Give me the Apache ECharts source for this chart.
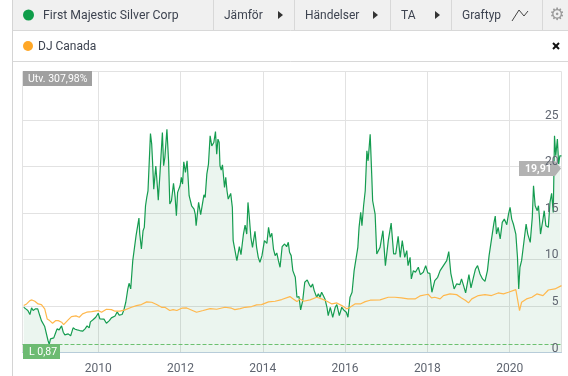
<!DOCTYPE html>
<html>
<head>
<meta charset="utf-8">
<style>
    html, body { margin: 0; padding: 0; background: #fff; }
    #chart { width: 568px; height: 376px; }
</style>
<script src="https://cdn.jsdelivr.net/npm/echarts@6/dist/echarts.min.js"></script>
</head>
<body>
<div id="chart"></div>
<script>
// values, x is decimal year
const stockYears = [2008.19,2008.24,2008.29,2008.34,2008.38,2008.42,2008.47,2008.53,2008.58,2008.62,2008.66,2008.70,2008.74,2008.78,2008.81,2008.84,2008.88,2008.92,2008.97,2009.00,2009.05,2009.11,2009.15,2009.19,2009.23,2009.27,2009.33,2009.39,2009.44,2009.49,2009.55,2009.62,2009.68,2009.73,2009.78,2009.81,2009.88,2009.94,2010.00,2010.04,2010.08,2010.14,2010.20,2010.27,2010.32,2010.41,2010.46,2010.51,2010.58,2010.62,2010.67,2010.72,2010.75,2010.79,2010.84,2010.87,2010.92,2010.95,2010.99,2011.01,2011.05,2011.09,2011.12,2011.15,2011.18,2011.21,2011.27,2011.30,2011.32,2011.35,2011.40,2011.44,2011.46,2011.50,2011.56,2011.59,2011.62,2011.67,2011.71,2011.74,2011.78,2011.83,2011.87,2011.90,2011.93,2011.99,2012.02,2012.05,2012.08,2012.12,2012.16,2012.21,2012.27,2012.33,2012.36,2012.38,2012.44,2012.49,2012.52,2012.57,2012.60,2012.64,2012.68,2012.72,2012.76,2012.81,2012.85,2012.88,2012.91,2012.94,2012.96,2012.99,2013.02,2013.07,2013.10,2013.13,2013.16,2013.22,2013.26,2013.28,2013.32,2013.37,2013.43,2013.47,2013.53,2013.57,2013.61,2013.64,2013.67,2013.71,2013.75,2013.81,2013.85,2013.89,2013.93,2013.98,2014.04,2014.10,2014.14,2014.18,2014.22,2014.26,2014.30,2014.34,2014.38,2014.42,2014.47,2014.53,2014.58,2014.62,2014.65,2014.69,2014.73,2014.79,2014.83,2014.88,2014.92,2014.97,2015.02,2015.08,2015.13,2015.17,2015.21,2015.25,2015.31,2015.35,2015.39,2015.43,2015.47,2015.51,2015.56,2015.59,2015.64,2015.70,2015.76,2015.80,2015.86,2015.92,2015.98,2016.03,2016.07,2016.12,2016.17,2016.22,2016.26,2016.31,2016.34,2016.38,2016.41,2016.45,2016.49,2016.53,2016.56,2016.61,2016.65,2016.67,2016.73,2016.77,2016.81,2016.85,2016.87,2016.92,2016.98,2017.05,2017.12,2017.18,2017.23,2017.29,2017.34,2017.39,2017.45,2017.50,2017.53,2017.58,2017.61,2017.66,2017.71,2017.78,2017.83,2017.90,2017.96,2018.01,2018.06,2018.11,2018.18,2018.25,2018.31,2018.39,2018.47,2018.52,2018.57,2018.61,2018.65,2018.71,2018.79,2018.83,2018.88,2018.93,2019.01,2019.06,2019.12,2019.17,2019.22,2019.28,2019.34,2019.40,2019.46,2019.50,2019.54,2019.58,2019.62,2019.65,2019.68,2019.72,2019.77,2019.82,2019.87,2019.93,2019.97,2020.01,2020.05,2020.09,2020.15,2020.19,2020.22,2020.25,2020.29,2020.34,2020.40,2020.44,2020.50,2020.55,2020.58,2020.62,2020.67,2020.70,2020.72,2020.75,2020.81,2020.84,2020.88,2020.94,2020.98,2021.02,2021.06,2021.09,2021.12,2021.16,2021.19,2021.22,2021.26];
const stockValues = [4.86,4.69,4.51,4.08,4.79,4.51,4.69,4.69,3.97,3.43,3.43,2.79,2.79,1.29,0.87,1.47,1.29,1.57,2.18,2.54,2.43,2.86,2.18,1.90,1.82,2.00,1.79,2.65,2.50,2.43,2.36,2.29,2.54,2.86,2.65,3.29,3.54,3.79,4.22,3.61,3.43,3.58,3.15,3.43,3.72,3.93,4.36,4.01,4.08,4.51,5.40,6.83,7.44,6.83,9.87,10.05,12.56,12.73,14.45,12.73,11.12,13.09,13.45,15.77,16.67,17.38,23.54,22.39,20.60,17.56,20.03,17.74,16.38,19.17,23.64,20.07,20.96,24.00,20.60,15.95,16.31,18.17,16.67,14.70,17.21,17.92,18.82,18.10,20.50,19.35,20.60,16.85,15.77,15.42,14.81,13.63,16.13,14.81,14.70,16.95,16.67,19.17,20.25,23.29,22.21,22.57,23.75,21.32,22.93,22.57,20.07,19.60,20.17,17.74,18.82,17.38,16.49,17.10,15.60,12.02,12.20,9.87,11.37,10.52,12.73,13.70,12.73,16.13,14.70,12.38,11.30,13.02,11.30,10.23,9.69,10.41,12.02,11.73,13.45,12.38,12.81,11.12,10.41,10.70,9.87,9.16,11.37,11.66,11.37,11.84,10.77,10.41,8.80,8.08,5.94,6.01,4.58,5.58,7.55,7.80,7.30,7.01,7.37,6.65,5.94,6.30,5.94,6.47,6.12,5.76,4.86,3.97,4.86,3.79,4.86,5.15,3.97,4.86,4.51,4.33,3.79,5.94,6.47,8.80,8.80,11.30,13.45,15.06,13.63,15.77,17.38,21.68,20.60,23.46,18.82,16.31,14.88,10.59,10.41,11.30,11.48,13.09,9.34,12.02,13.91,10.59,10.59,12.48,10.23,12.02,10.23,10.95,9.34,10.23,7.91,8.80,8.62,9.16,8.37,8.62,9.34,8.55,8.51,6.47,7.73,8.08,8.80,9.34,9.87,10.84,8.51,8.51,6.83,7.37,7.30,7.91,7.19,6.40,8.37,6.94,8.08,8.98,9.34,8.44,7.91,7.65,8.80,10.41,10.41,12.81,13.99,14.67,12.73,13.45,12.20,13.99,14.34,13.74,14.81,15.60,14.34,13.81,12.73,10.23,6.83,9.16,9.87,11.66,13.81,12.73,11.84,14.52,17.92,15.77,15.24,15.77,14.70,12.73,14.34,15.24,13.63,13.45,16.13,17.10,15.06,23.29,21.14,22.93,20.25,21.14,21.14];

const indexYears = [2008.19,2008.26,2008.34,2008.39,2008.46,2008.54,2008.62,2008.70,2008.76,2008.82,2008.89,2008.97,2009.03,2009.11,2009.16,2009.27,2009.35,2009.46,2009.54,2009.62,2009.72,2009.84,2010.00,2010.08,2010.20,2010.32,2010.41,2010.53,2010.65,2010.81,2010.93,2011.05,2011.18,2011.30,2011.42,2011.54,2011.62,2011.74,2011.82,2011.91,2012.03,2012.15,2012.39,2012.55,2012.72,2012.88,2013.08,2013.24,2013.32,2013.45,2013.57,2013.73,2013.85,2013.97,2014.14,2014.30,2014.46,2014.66,2014.74,2014.83,2014.91,2014.99,2015.15,2015.31,2015.43,2015.56,2015.68,2015.80,2015.92,2016.04,2016.12,2016.24,2016.37,2016.49,2016.61,2016.85,2016.89,2017.05,2017.21,2017.37,2017.53,2017.70,2017.82,2018.02,2018.10,2018.18,2018.31,2018.39,2018.55,2018.71,2018.83,2018.93,2019.00,2019.08,2019.24,2019.40,2019.56,2019.72,2019.85,2019.97,2020.15,2020.19,2020.24,2020.29,2020.41,2020.54,2020.66,2020.81,2020.94,2021.10,2021.26];
const indexValues = [5.04,5.22,5.58,5.65,5.51,5.22,5.15,4.69,3.61,3.43,3.15,3.43,3.43,3.26,3.00,3.51,3.86,3.93,3.79,4.15,4.33,4.40,4.51,4.33,4.65,4.61,4.44,4.44,4.58,4.86,5.04,5.15,5.44,5.40,5.15,4.86,4.86,4.51,4.61,4.51,4.76,4.79,4.33,4.51,4.72,4.65,4.86,4.76,4.61,4.72,4.86,4.94,5.12,5.15,5.44,5.51,5.69,6.01,5.76,5.47,5.76,5.51,5.65,5.94,5.76,5.51,5.22,5.33,5.04,4.69,4.86,5.22,5.22,5.47,5.62,5.65,5.76,5.94,5.94,5.87,5.76,5.76,6.08,6.26,5.87,5.94,5.76,6.12,6.30,6.22,5.87,5.58,5.33,5.76,6.12,6.22,6.12,6.40,6.30,6.47,6.76,5.76,4.51,5.40,5.76,5.94,6.30,6.12,6.72,6.83,7.19];

const yearTicks = [2010, 2012, 2014, 2016, 2018, 2020];
const priceTicks = [0, 5, 10, 15, 20, 25];
const lowValue = 0.87;

const FONT = 'Roboto';
const TEXT = '#3d4350';

function zip(xs, ys) {
    return xs.map(function (x, i) { return [x, ys[i]]; });
}

function label(x, y, text, size, color, extra) {
    return {
        type: 'text', x: x, y: y, z: 20,
        style: Object.assign({
            text: text, fill: color, fontFamily: FONT, fontSize: size,
            textVerticalAlign: 'middle'
        }, extra || {})
    };
}

function box(x, y, w, h, color, z) {
    return { type: 'rect', z: z, shape: { x: x, y: y, width: w, height: h }, style: { fill: color } };
}

function vline(x, y1, y2, color) {
    return { type: 'line', z: 10, shape: { x1: x, y1: y1, x2: x, y2: y2 }, style: { stroke: color, lineWidth: 1 } };
}

function hline(x1, x2, y, color) {
    return { type: 'line', z: 10, shape: { x1: x1, y1: y, x2: x2, y2: y }, style: { stroke: color, lineWidth: 1 } };
}

function arrow(x, y) {
    return {
        type: 'polygon', z: 20,
        shape: { points: [[x, y - 4], [x + 5, y], [x, y + 4]] },
        style: { fill: '#333' }
    };
}

const toolbar = [
    box(12.5, 0, 556, 30, '#f0f0f0', 5),
    vline(12.5, 0, 376, '#d4d4d4'),
    hline(12.5, 568, 30.5, '#d8d8d8'),
    hline(12.5, 568, 61.5, '#d8d8d8'),
    vline(213.5, 0, 30, '#d8d8d8'),
    vline(294.5, 0, 30, '#d8d8d8'),
    vline(390.5, 0, 30, '#d8d8d8'),
    vline(451.5, 0, 30, '#d8d8d8'),
    vline(542.5, 0, 30, '#d8d8d8'),
    { type: 'circle', z: 20, shape: { cx: 28.5, cy: 15, r: 5.5 }, style: { fill: '#0f9d4a' } },
    label(43, 16, 'First Majestic Silver Corp', 12.25, TEXT),
    label(224, 16, 'Jämför', 12, TEXT),
    arrow(278, 15),
    label(305, 16, 'Händelser', 12, TEXT),
    arrow(373, 15),
    label(401, 16, 'TA', 12, TEXT),
    arrow(435, 15),
    label(462, 16, 'Graftyp', 12, TEXT),
    {
        type: 'polyline', z: 20,
        shape: { points: [[512, 21], [519, 10], [524, 16], [528, 11]] },
        style: { stroke: '#444', lineWidth: 1, fill: null }
    },
    label(557, 16, '⚙', 17, '#9a9a9a', { fontFamily: 'DejaVu Sans', textAlign: 'center' }),
    { type: 'circle', z: 20, shape: { cx: 28, cy: 46, r: 5 }, style: { fill: '#ffa726' } },
    label(38, 47, 'DJ Canada', 12, TEXT),
    { type: 'line', z: 20, shape: { x1: 553, y1: 43, x2: 559, y2: 49 }, style: { stroke: '#111', lineWidth: 2 } },
    { type: 'line', z: 20, shape: { x1: 559, y1: 43, x2: 553, y2: 49 }, style: { stroke: '#111', lineWidth: 2 } },
    // boxes on the plot
    box(23, 71, 69, 15, '#a0a0a0', 6),
    label(28, 79, 'Utv. 307,98%', 10.5, '#fff'),
    box(23, 344, 37, 15, '#6dbb72', 6),
    label(29, 352, 'L 0,87', 10.5, '#fff'),
    {
        type: 'polygon', z: 6,
        shape: { points: [[519, 161], [555, 161], [561, 168.5], [555, 176], [519, 176]] },
        style: { fill: '#b2b2b2' }
    },
    label(525, 169, '19,91', 10.5, '#fff', { fontWeight: 'bold' })
];

const chart = echarts.init(document.getElementById('chart'), null, { renderer: 'canvas' });

chart.setOption({
    animation: false,
    backgroundColor: '#fff',
    graphic: toolbar,
    grid: {
        show: true, left: 22.5, right: 6.5, top: 71.5, bottom: 23.5,
        borderColor: '#e2e2e2', borderWidth: 1, backgroundColor: 'transparent'
    },
    xAxis: {
        type: 'value',
        min: 2008.16,
        max: 2021.26,
        axisLine: { show: true, onZero: false, lineStyle: { color: '#bfcfe0', width: 1 } },
        axisTick: { show: false, customValues: yearTicks },
        axisLabel: {
            customValues: yearTicks, color: '#5f6570', fontFamily: FONT, fontSize: 12, margin: 10,
            formatter: function (v) { return String(v); }
        },
        splitLine: { show: true, lineStyle: { color: '#e2e2e2', width: 1 } }
    },
    yAxis: [
        {
            type: 'value', min: 0, max: 30.2, position: 'right',
            axisLine: { show: false },
            axisTick: { show: false, customValues: priceTicks },
            axisLabel: { show: false, customValues: priceTicks },
            splitLine: { show: true, lineStyle: { color: '#e2e2e2', width: 1 } }
        },
        {
            // only the labels, these sit on top of the value box
            type: 'value', min: 0, max: 30.2, position: 'right', z: 12,
            axisLine: { show: false },
            axisTick: { show: false, customValues: priceTicks },
            axisLabel: {
                customValues: priceTicks, inside: true, margin: 3, verticalAlign: 'bottom',
                lineHeight: 8, color: '#5f6570', fontFamily: FONT, fontSize: 12
            },
            splitLine: { show: false }
        }
    ],
    series: [
        {
            name: 'First Majestic Silver Corp',
            type: 'line',
            data: zip(stockYears, stockValues),
            symbol: 'none',
            z: 3,
            lineStyle: { color: '#159c50', width: 1.2 },
            areaStyle: { color: 'rgba(18,140,70,0.12)' },
            markLine: {
                silent: true,
                symbol: 'none',
                label: { show: false },
                lineStyle: { color: '#6cc070', type: 'dashed', width: 1 },
                data: [{ yAxis: lowValue }]
            }
        },
        {
            name: 'DJ Canada',
            type: 'line',
            data: zip(indexYears, indexValues),
            symbol: 'none',
            z: 4,
            lineStyle: { color: '#ffb84d', width: 1.2 }
        }
    ]
});
</script>
</body>
</html>
